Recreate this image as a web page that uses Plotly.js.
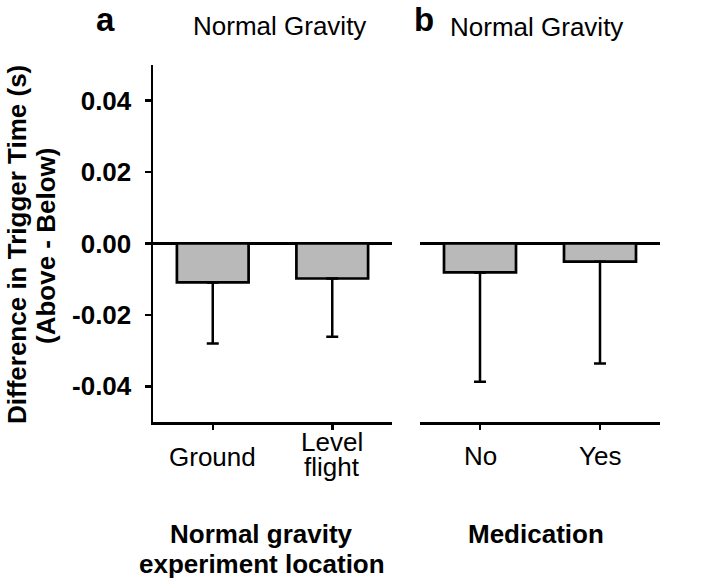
<!DOCTYPE html>
<html>
<head>
<meta charset="utf-8">
<script src="https://cdn.plot.ly/plotly-3.0.1.min.js"></script>
<style>html,body{margin:0;padding:0;background:#fff;}#chart{width:720px;height:583px;}</style>
</head>
<body>
<div id="chart"></div>
<script>
// Panel a: normal gravity experiment location
var catsA = ["Ground", "Level flight"];
var meanA = [-0.0109, -0.0098];
var errA  = [0.0171, 0.0163];
// Panel b: medication
var catsB = ["No", "Yes"];
var meanB = [-0.0081, -0.0051];
var errB  = [0.0306, 0.0285];
var yTickVals = [-0.04, -0.02, 0, 0.02, 0.04];
var yTickText = ["-0.04", "-0.02", "0.00", "0.02", "0.04"];

var W = 720, H = 583;
function px(x){ return x / W; }
function py(y){ return 1 - y / H; }

var FONT = "Liberation Sans, Arial, sans-serif";
var barStyle = {color: "rgb(185,185,185)", line: {color: "black", width: 2.7}};

var traces = [
  {type: "bar", x: catsA, y: meanA, width: 0.6, marker: barStyle, xaxis: "x", yaxis: "y",
   error_y: {type: "data", symmetric: false, array: [0, 0], arrayminus: errA, color: "black", thickness: 2.5, width: 6}},
  {type: "bar", x: catsB, y: meanB, width: 0.6, marker: barStyle, xaxis: "x2", yaxis: "y2",
   error_y: {type: "data", symmetric: false, array: [0, 0], arrayminus: errB, color: "black", thickness: 2.5, width: 6}}
];

var yDom = [py(422), py(65)];
var common = {type: "category", showgrid: false, zeroline: false, showline: true, linecolor: "black", linewidth: 2.5,
  ticks: "outside", ticklen: 5, tickwidth: 2.5, tickcolor: "black", showticklabels: false, range: [-0.5, 1.5], fixedrange: true};

var layout = {
  width: W, height: H, margin: {l: 0, r: 0, t: 0, b: 0}, showlegend: false,
  paper_bgcolor: "white", plot_bgcolor: "rgba(0,0,0,0)",
  font: {family: FONT, size: 26, color: "black"},
  xaxis: Object.assign({}, common, {domain: [px(153), px(392)], anchor: "y"}),
  xaxis2: Object.assign({}, common, {domain: [px(420), px(660)], anchor: "y2"}),
  yaxis: {domain: yDom, range: [-0.05, 0.05], anchor: "x", showgrid: false, showline: true, linecolor: "black", linewidth: 2.5,
    ticks: "outside", ticklen: 6, tickwidth: 2.5, tickcolor: "black", tickvals: yTickVals, ticktext: yTickText,
    tickfont: {family: FONT, size: 26, weight: "bold", color: "black"}, ticklabelstandoff: 8,
    zeroline: true, zerolinecolor: "black", zerolinewidth: 2.5},
  yaxis2: {domain: yDom, range: [-0.05, 0.05], anchor: "x2", showgrid: false, showline: false, showticklabels: false,
    ticks: "", zeroline: true, zerolinecolor: "black", zerolinewidth: 2.5},
  annotations: []
};

function ann(text, x, y, size, bold, extra){
  var a = {text: text, xref: "paper", yref: "paper", x: px(x), y: py(y), xanchor: "center", yanchor: "middle",
    showarrow: false, font: {family: FONT, size: size, color: "black", weight: bold ? "bold" : "normal"}};
  return Object.assign(a, extra || {});
}
function catAnn(text, axis, cat, y){
  return {text: text, xref: axis, yref: "paper", x: cat, y: py(y), xanchor: "center", yanchor: "middle",
    showarrow: false, font: {family: FONT, size: 26, color: "black"}};
}

var A = layout.annotations;
A.push(ann("a", 105.5, 0, 33, true, {yanchor: "top", borderpad: 0}));
A.push(ann("b", 424, 0, 33, true, {yanchor: "top", borderpad: 0}));
A.push(ann("Normal Gravity", 279, 26, 26, false));
A.push(ann("Normal Gravity", 536, 27.5, 26, false));
// category labels
A.push(catAnn("Ground", "x", catsA[0], 456.5));
A.push(catAnn("Level", "x", catsA[1], 442));
A.push(catAnn("flight", "x", catsA[1], 466.5));
A.push(catAnn("No", "x2", catsB[0], 456));
A.push(catAnn("Yes", "x2", catsB[1], 456));
// axis titles
A.push(ann("Normal gravity", 261, 534, 26, true));
A.push(ann("experiment location", 262, 564, 26, true));
A.push(ann("Medication", 536, 534, 26, true));
A.push(ann("Difference in Trigger Time (s)", 17, 245, 26, true, {textangle: -90}));
A.push(ann("(Above - Below)", 46, 246, 26, true, {textangle: -90}));

Plotly.newPlot("chart", traces, layout, {staticPlot: true, displayModeBar: false});
</script>
</body>
</html>
